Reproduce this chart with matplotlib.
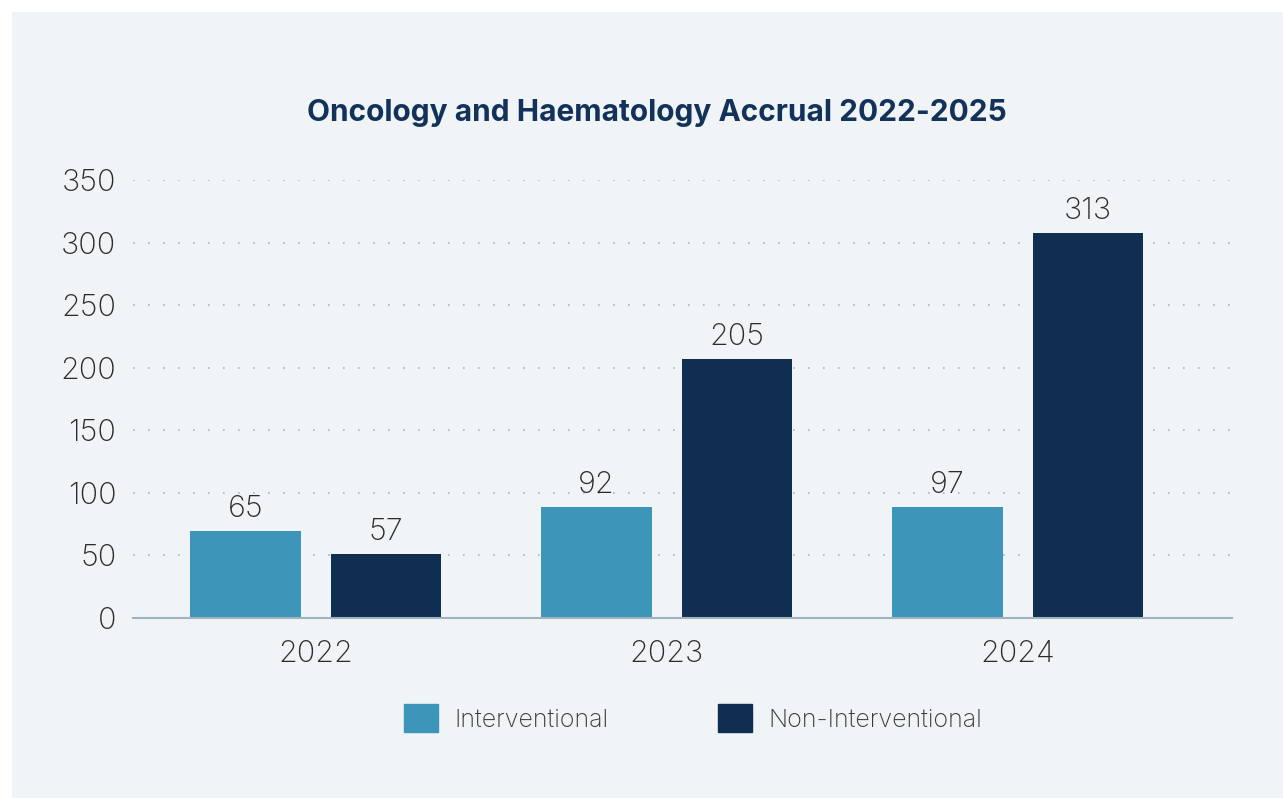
import matplotlib
matplotlib.use("Agg")
import matplotlib.pyplot as plt
from matplotlib.patches import Rectangle, Patch
import numpy as np

plt.rcParams['font.family'] = ['Inter', 'DejaVu Sans']

years = ['2022', '2023', '2024']
interventional = [65, 92, 97]          # value labels
non_interventional = [57, 205, 313]
# bar heights as drawn in the source (they don't quite match the labels)
interventional_bars = [69.5, 88.7, 88.7]
non_interventional_bars = [51, 207, 307.6]

c_int = '#3d95b9'
c_non = '#0f2e50'
bg = '#f0f4f7'
txt = '#2b2b2b'

fig = plt.figure(figsize=(12.83, 7.98), dpi=100)
fig.patch.set_facecolor('white')
fig.patches.append(Rectangle((12/1283, 0), 1 - 12/1283, 1 - 12/798, transform=fig.transFigure,
                             facecolor=bg, edgecolor='none', zorder=-10))

ax = fig.add_axes([133/1283, 1 - 618/798, (1232-133)/1283, (618-180)/798])
ax.patch.set_alpha(0)

x = np.arange(len(years))
off = 0.2
w = 0.315
b1 = ax.bar(x - off, interventional_bars, w, color=c_int, zorder=3)
b2 = ax.bar(x + off, non_interventional_bars, w, color=c_non, zorder=3)

for bars, labs in ((b1, interventional), (b2, non_interventional)):
    for r, v in zip(bars, labs):
        ax.annotate(str(v), (r.get_x() + r.get_width()/2, r.get_height()),
                    xytext=(0, 6), textcoords='offset points', ha='center', va='bottom',
                    fontsize=22, color=txt, fontweight='light')

ax.set_ylim(0, 350)
ax.set_xlim(-0.521, 2.61)
ax.set_yticks(np.arange(0, 351, 50))
ax.set_xticks(x)
ax.set_xticklabels(years)
ax.tick_params(axis='both', length=0, labelsize=22, labelcolor=txt)
ax.tick_params(axis='y', pad=12)
ax.tick_params(axis='x', pad=16)
for lab in ax.get_xticklabels() + ax.get_yticklabels():
    lab.set_fontweight('light')

ax.yaxis.grid(True, linestyle=(0, (1, 8)), color='#9fb6c8', linewidth=1.2, zorder=0)
ax.set_axisbelow(True)
for s in ['top', 'right', 'left']:
    ax.spines[s].set_visible(False)
ax.spines['bottom'].set_color('#9fb3c2')
ax.spines['bottom'].set_linewidth(1.5)
ax.spines['bottom'].set_zorder(4)

fig.text(657/1283, 1 - 113/798, 'Oncology and Haematology Accrual 2022-2025',
         ha='center', va='center', fontsize=21.5, fontweight='bold', color='#13325a')

handles = [Patch(color=c_int, label='Interventional'),
           Patch(color=c_non, label='Non-Interventional')]
fig.legend(handles=handles, loc='center', bbox_to_anchor=(693/1283, 1 - 718/798), ncol=2,
           frameon=False, handlelength=1.36, handleheight=1.36,
           handletextpad=0.68, columnspacing=4.36, labelcolor='#3a3a3a',
           prop={'weight': 'light', 'size': 18})

fig.savefig('out.png', dpi=100, facecolor=fig.get_facecolor())
